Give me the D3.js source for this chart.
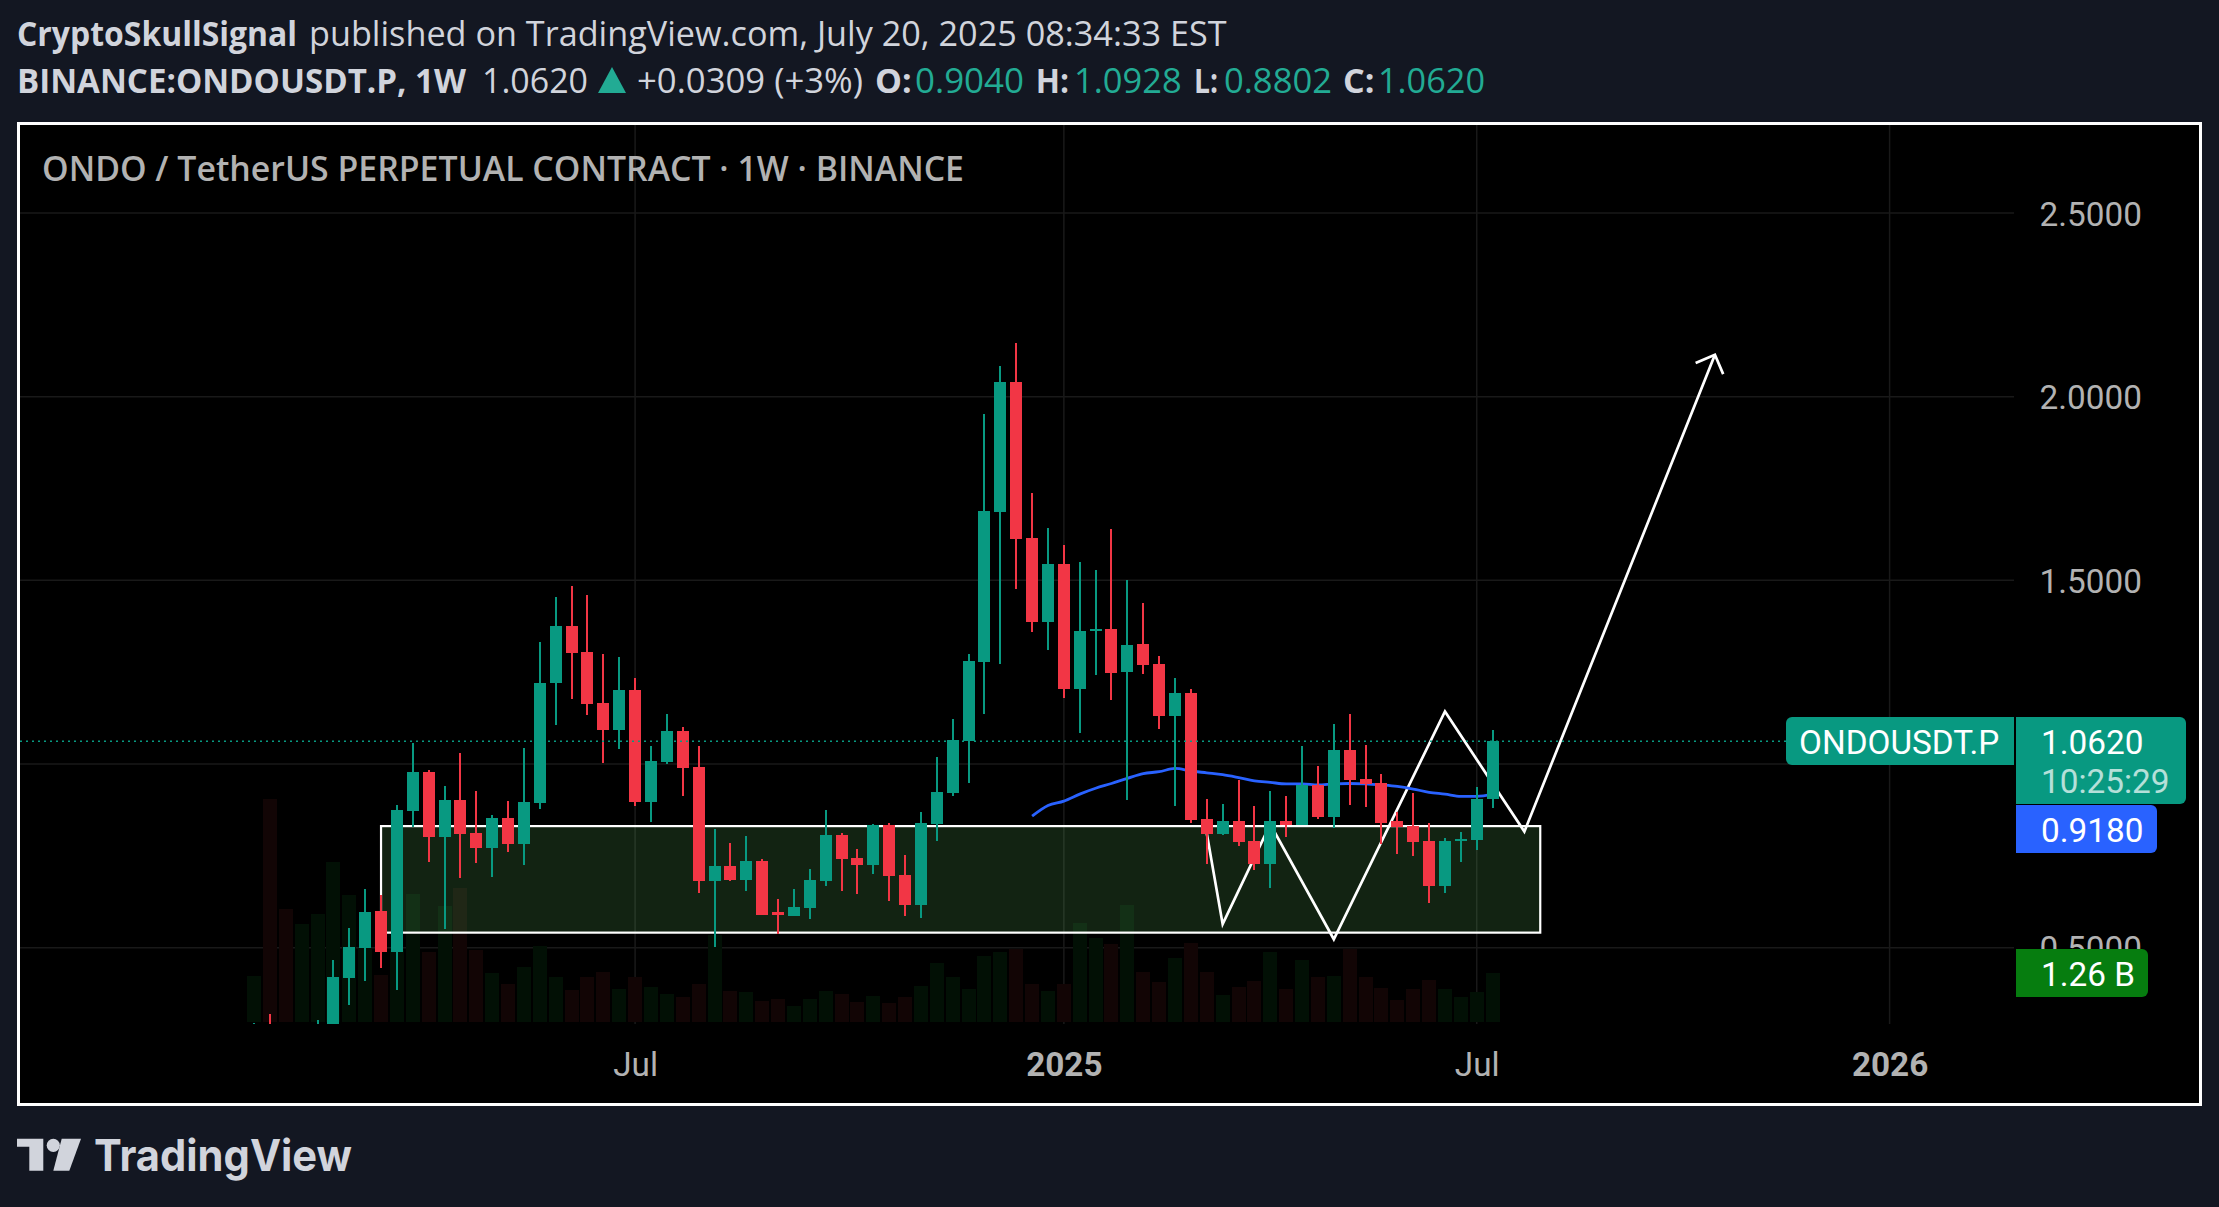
<!DOCTYPE html>
<html><head><meta charset="utf-8">
<script src="https://cdn.jsdelivr.net/npm/d3@7"></script>
<style>html,body{margin:0;padding:0;background:#131722;overflow:hidden}svg{display:block}</style>
</head><body>
<div id="chart"></div>
<script>
// ---- data ----
const opens  = [0.20,0.28,0.25,0.20,0.24,0.27,0.418,0.499,0.600,0.488,0.872,0.978,0.802,0.902,0.812,0.772,0.853,0.782,0.894,1.221,1.376,1.305,1.166,1.093,1.202,0.897,1.006,1.090,0.992,0.682,
 0.722,0.684,0.736,0.598,0.586,0.608,0.681,0.806,0.744,0.725,0.834,0.698,0.616,0.837,0.922,1.063,1.278,1.687,2.041,1.616,1.387,1.545,1.204,1.366,1.368,1.250,1.326,1.273,1.132,1.194,
 0.850,0.810,0.845,0.791,0.728,0.845,0.834,0.943,0.856,1.038,0.959,0.949,0.845,0.831,0.791,0.668,0.796,0.793,0.9040];
const highs  = [0.295,0.319,0.285,0.25,0.303,0.4664,0.554,0.660,0.644,0.889,1.058,0.984,0.940,1.030,0.927,0.861,0.900,1.044,1.332,1.455,1.485,1.460,1.300,1.292,1.235,1.049,1.136,1.101,1.049,0.823,
 0.785,0.804,0.741,0.633,0.660,0.714,0.875,0.813,0.769,0.836,0.840,0.753,0.870,1.019,1.123,1.300,1.953,2.084,2.147,1.738,1.643,1.597,1.550,1.529,1.641,1.501,1.437,1.294,1.234,1.204,
 0.905,0.891,0.957,0.886,0.927,0.913,1.049,0.995,1.109,1.136,1.052,0.973,0.869,0.921,0.840,0.799,0.815,0.938,1.0928];
const lows   = [0.10,0.19,0.15,0.12,0.17,0.20,0.344,0.409,0.445,0.385,0.829,0.733,0.551,0.690,0.731,0.693,0.761,0.725,0.878,1.107,1.178,1.134,1.003,1.041,0.886,0.842,1.000,0.913,0.649,0.502,
 0.681,0.654,0.589,0.538,0.586,0.579,0.668,0.654,0.646,0.701,0.628,0.586,0.581,0.790,0.913,0.949,1.137,1.273,1.477,1.360,1.310,1.180,1.085,1.243,1.174,0.903,1.245,1.096,0.887,0.840,
 0.728,0.807,0.777,0.712,0.663,0.801,0.834,0.850,0.826,0.889,0.883,0.782,0.755,0.750,0.622,0.649,0.733,0.766,0.8802];
const closes = [0.25,0.25,0.20,0.24,0.27,0.420,0.502,0.597,0.488,0.875,0.978,0.802,0.902,0.810,0.772,0.853,0.782,0.897,1.221,1.376,1.303,1.164,1.093,1.202,0.897,1.008,1.090,0.989,0.682,0.722,
 0.684,0.736,0.589,0.590,0.611,0.684,0.806,0.741,0.725,0.834,0.695,0.616,0.840,0.924,1.065,1.280,1.689,2.041,1.613,1.387,1.545,1.204,1.363,1.368,1.248,1.324,1.270,1.132,1.194,0.848,
 0.810,0.845,0.788,0.728,0.845,0.834,0.943,0.856,1.038,0.957,0.946,0.839,0.829,0.788,0.668,0.791,0.796,0.905,1.0620];
const volumes = [1.18,5.73,2.90,2.52,2.78,4.11,3.26,1.90,1.21,1.85,3.29,1.80,2.98,3.44,1.85,1.26,0.98,1.41,1.95,1.16,0.82,1.16,1.29,0.85,1.16,0.90,0.72,0.64,0.98,2.23,
 0.81,0.77,0.55,0.58,0.40,0.58,0.81,0.71,0.51,0.68,0.48,0.64,0.92,1.53,1.15,0.84,1.71,1.79,1.89,0.99,0.81,0.99,2.54,2.15,2.00,3.00,1.28,1.04,1.64,2.03,
 1.29,0.69,0.90,1.05,1.80,0.85,1.59,1.16,1.18,1.88,1.16,0.87,0.57,0.85,1.08,0.85,0.64,0.77,1.26];
const maStartWeek = 49;
const maValues = [0.858,0.887,0.899,0.918,0.934,0.947,0.961,0.974,0.979,0.988,0.981,0.976,0.971,0.963,0.954,0.950,0.946,0.946,0.943,0.946,0.947,0.946,0.943,0.939,0.932,0.923,0.918,0.912,0.912,0.918];
const zoneWeeks = [8,81];
const zonePrices = [0.831,0.541];
const patternWeeks  = [60,61,64,68,75,80,92];
const patternPrices = [0.811,0.564,0.836,0.523,1.143,0.816,2.114];
const priceTicks = [0.5,1.0,1.5,2.0,2.5];
const priceLabelTicks = [0.5,1.5,2.0,2.5];
const timeTickWeeks = [24,51,77,103];
const timeTickLabels = ["Jul","2025","Jul","2026"];
const timeTickBold = [false,true,false,true];
const lastPrice = 1.0620;
const lastVolume = 1.26;
const FONT_AXIS = "Roboto, sans-serif";
const FONT_HEAD = "'Open Sans', sans-serif";
const UP="#089981", DOWN="#F23645", TEAL="#22ab94", HEAD="#d1d4dc", GREY="#b2b2b2";

const W=2219,H=1207;
const svg=d3.select("#chart").append("svg").attr("width",W).attr("height",H).attr("viewBox",`0 0 ${W} ${H}`);
svg.append("rect").attr("width",W).attr("height",H).attr("fill","#131722");

// frame
svg.append("rect").attr("x",18.5).attr("y",123.5).attr("width",2182).attr("height",981).attr("fill","#000").attr("stroke","#fff").attr("stroke-width",3);

const x=d3.scaleLinear().domain([0,103]).range([254,1889.6]);
const y=d3.scaleLinear().domain([0.5,2.5]).range([947.7,213]);
const yVol=d3.scaleLinear().domain([0,lastVolume]).range([1022,973]);
const paneLeft=20,paneRight=2014,paneTop=125,paneBottom=1024;

svg.append("defs").append("clipPath").attr("id","pane").append("rect")
  .attr("x",paneLeft).attr("y",paneTop).attr("width",paneRight-paneLeft).attr("height",paneBottom-paneTop);
const pane=svg.append("g").attr("clip-path","url(#pane)");

// grid
const gridColor="#191919";
pane.append("g").selectAll("line").data(priceTicks).join("line")
  .attr("x1",paneLeft).attr("x2",paneRight).attr("y1",d=>y(d)).attr("y2",d=>y(d)).attr("stroke",gridColor).attr("stroke-width",1.5);
pane.append("g").selectAll("line").data(timeTickWeeks).join("line")
  .attr("x1",d=>x(d)).attr("x2",d=>x(d)).attr("y1",paneTop).attr("y2",paneBottom).attr("stroke",gridColor).attr("stroke-width",1.5);

const idx=d3.range(closes.length);
const isUp=i=>closes[i]>=opens[i];

// volume
pane.append("g").selectAll("rect").data(idx).join("rect")
  .attr("shape-rendering","crispEdges")
  .attr("x",i=>x(i)-7).attr("width",14)
  .attr("y",i=>yVol(volumes[i])).attr("height",i=>yVol(0)-yVol(volumes[i]))
  .attr("fill",i=>isUp(i)?"#021005":"#120505");

// zone rectangle
pane.append("rect")
  .attr("x",x(zoneWeeks[0])).attr("width",x(zoneWeeks[1])-x(zoneWeeks[0]))
  .attr("y",y(zonePrices[0])).attr("height",y(zonePrices[1])-y(zonePrices[0]))
  .attr("fill","rgba(100,195,100,0.18)").attr("stroke","#fff").attr("stroke-width",2.2);

// hand-drawn pattern and arrow
const line=d3.line().x(d=>x(d[0])).y(d=>y(d[1]));
const pat=patternWeeks.map((w,i)=>[w,patternPrices[i]]);
pane.append("path").attr("d",line(pat)).attr("fill","none").attr("stroke","#fff").attr("stroke-width",2.7).attr("stroke-linejoin","miter");
(function(){
  const tip=pat[pat.length-1],prev=pat[pat.length-2];
  const tx=x(tip[0]),ty=y(tip[1]);
  const a=Math.atan2(y(prev[1])-ty,x(prev[0])-tx),L=21,s=Math.PI/4;
  const p=d3.path();
  p.moveTo(tx+L*Math.cos(a+s),ty+L*Math.sin(a+s));p.lineTo(tx,ty);p.lineTo(tx+L*Math.cos(a-s),ty+L*Math.sin(a-s));
  pane.append("path").attr("d",p.toString()).attr("fill","none").attr("stroke","#fff").attr("stroke-width",2.7);
})();

// moving average
pane.append("path").attr("d",d3.line().x((d,i)=>x(maStartWeek+i)).y(d=>y(d)).curve(d3.curveMonotoneX)(maValues))
  .attr("fill","none").attr("stroke","#2962FF").attr("stroke-width",2.8);

// candles
const candles=pane.append("g");
candles.selectAll("line").data(idx).join("line")
  .attr("shape-rendering","crispEdges")
  .attr("x1",i=>x(i)).attr("x2",i=>x(i)).attr("y1",i=>y(highs[i])).attr("y2",i=>y(lows[i]))
  .attr("stroke",i=>isUp(i)?UP:DOWN).attr("stroke-width",2);
candles.selectAll("rect").data(idx).join("rect")
  .attr("shape-rendering","crispEdges")
  .attr("x",i=>x(i)-6).attr("width",12)
  .attr("y",i=>y(Math.max(opens[i],closes[i])))
  .attr("height",i=>Math.max(2,Math.abs(y(opens[i])-y(closes[i]))))
  .attr("fill",i=>isUp(i)?UP:DOWN);

// last price dotted line
pane.append("line").attr("x1",paneLeft).attr("x2",1786).attr("y1",y(lastPrice)).attr("y2",y(lastPrice))
  .attr("stroke",UP).attr("stroke-width",1.5).attr("stroke-dasharray","2 4");

// axes
const axR=d3.axisRight(y).tickValues(priceLabelTicks).tickFormat(d3.format(".4f")).tickSize(0).tickPadding(0);
const gR=svg.append("g").attr("transform","translate(2039.5,0.3)").call(axR);
gR.select(".domain").remove();
gR.selectAll("text").attr("font-family",FONT_AXIS).attr("font-size",33.3).attr("fill",GREY).attr("x",0).attr("dy","0.355em");

const axB=d3.axisBottom(x).tickValues(timeTickWeeks).tickFormat((d,i)=>timeTickLabels[i]).tickSize(0).tickPadding(0);
const gB=svg.append("g").attr("transform","translate(0,1076)").call(axB);
gB.select(".domain").remove();
gB.selectAll("text").attr("font-family",FONT_AXIS).attr("font-size",33.3).attr("fill",GREY).attr("y",0).attr("dy",0)
  .attr("font-weight",(d,i)=>timeTickBold[i]?700:400);

// price tags
function tag(x0,y0,x1,y1,rl,rr,fill){
  const p=d3.path();
  p.moveTo(x0+rl,y0);p.lineTo(x1-rr,y0);
  if(rr)p.arcTo(x1,y0,x1,y0+rr,rr);
  p.lineTo(x1,y1-rr);
  if(rr)p.arcTo(x1,y1,x1-rr,y1,rr);
  p.lineTo(x0+rl,y1);
  if(rl)p.arcTo(x0,y1,x0,y1-rl,rl);
  p.lineTo(x0,y0+rl);
  if(rl)p.arcTo(x0,y0,x0+rl,y0,rl);
  p.closePath();
  svg.append("path").attr("d",p.toString()).attr("fill",fill);
}
function label(s,xp,yp,o={}){
  const t=svg.append("text").attr("x",xp).attr("y",yp).text(s)
    .attr("font-family",o.family||FONT_AXIS).attr("font-size",o.size||33.3)
    .attr("font-weight",o.weight||400).attr("fill",o.fill||"#fff").attr("opacity",o.opacity==null?1:o.opacity);
  if(o.to) t.attr("textLength",o.to-xp).attr("lengthAdjust","spacingAndGlyphs");
  return t;
}
tag(1786,717,2014,765,6,0,UP);
tag(2016,717,2186,804,0,6,UP);
tag(2016,805,2157,853,0,6,"#2962FF");
tag(2016,949,2148,997,0,6,"#067D0F");
label("ONDOUSDT.P",1799,753.5);
label(d3.format(".4f")(lastPrice),2041,753.5);
label("10:25:29",2041,792.5,{opacity:.7});
label(d3.format(".4f")(maValues[maValues.length-1]),2041,841.5);
label(lastVolume+" B",2041,985.5);

// chart title
label("ONDO / TetherUS PERPETUAL CONTRACT · 1W · BINANCE",42,181,{family:FONT_HEAD,weight:600,size:34,fill:GREY,to:964});

// header
const H1=46,H2=93,HS=34;
label("CryptoSkullSignal",17,H1,{family:FONT_HEAD,weight:700,size:HS,fill:HEAD,to:297});
label("published on TradingView.com, July 20, 2025 08:34:33 EST",309,H1,{family:FONT_HEAD,size:HS,fill:HEAD,to:1226.5});
label("BINANCE:ONDOUSDT.P, 1W",17,H2,{family:FONT_HEAD,weight:700,size:HS,fill:HEAD,to:466});
label("1.0620",482,H2,{family:FONT_HEAD,size:HS,fill:HEAD,to:588});
svg.append("path").attr("d",d3.line()([[612,67],[626,93],[598,93]])+"Z").attr("fill",TEAL);
label("+0.0309 (+3%)",637,H2,{family:FONT_HEAD,size:HS,fill:HEAD,to:863});
[["O:","0.9040",875,911.7,915,1024],["H:","1.0928",1035.7,1069,1074,1181.6],["L:","0.8802",1194,1218,1224,1332],["C:","1.0620",1343,1374.5,1378,1485]].forEach(r=>{
  label(r[0],r[2],H2,{family:FONT_HEAD,weight:700,size:HS,fill:HEAD,to:r[3]});
  label(r[1],r[4],H2,{family:FONT_HEAD,size:HS,fill:TEAL,to:r[5]});
});

// watermark
const LOGO=HEAD;
svg.append("path").attr("fill",LOGO).attr("d","M17 1138.7H43.3V1170.7H29.3V1146.7H17Z");
svg.append("circle").attr("fill",LOGO).attr("cx",53.3).attr("cy",1145.3).attr("r",6.6);
svg.append("path").attr("fill",LOGO).attr("d","M61.7 1138.7H81L69.3 1170.7H53.3Z");
label("TradingView",94,1170.7,{family:"Inter, sans-serif",weight:700,size:44,fill:LOGO,to:352});
</script>
</body></html>
